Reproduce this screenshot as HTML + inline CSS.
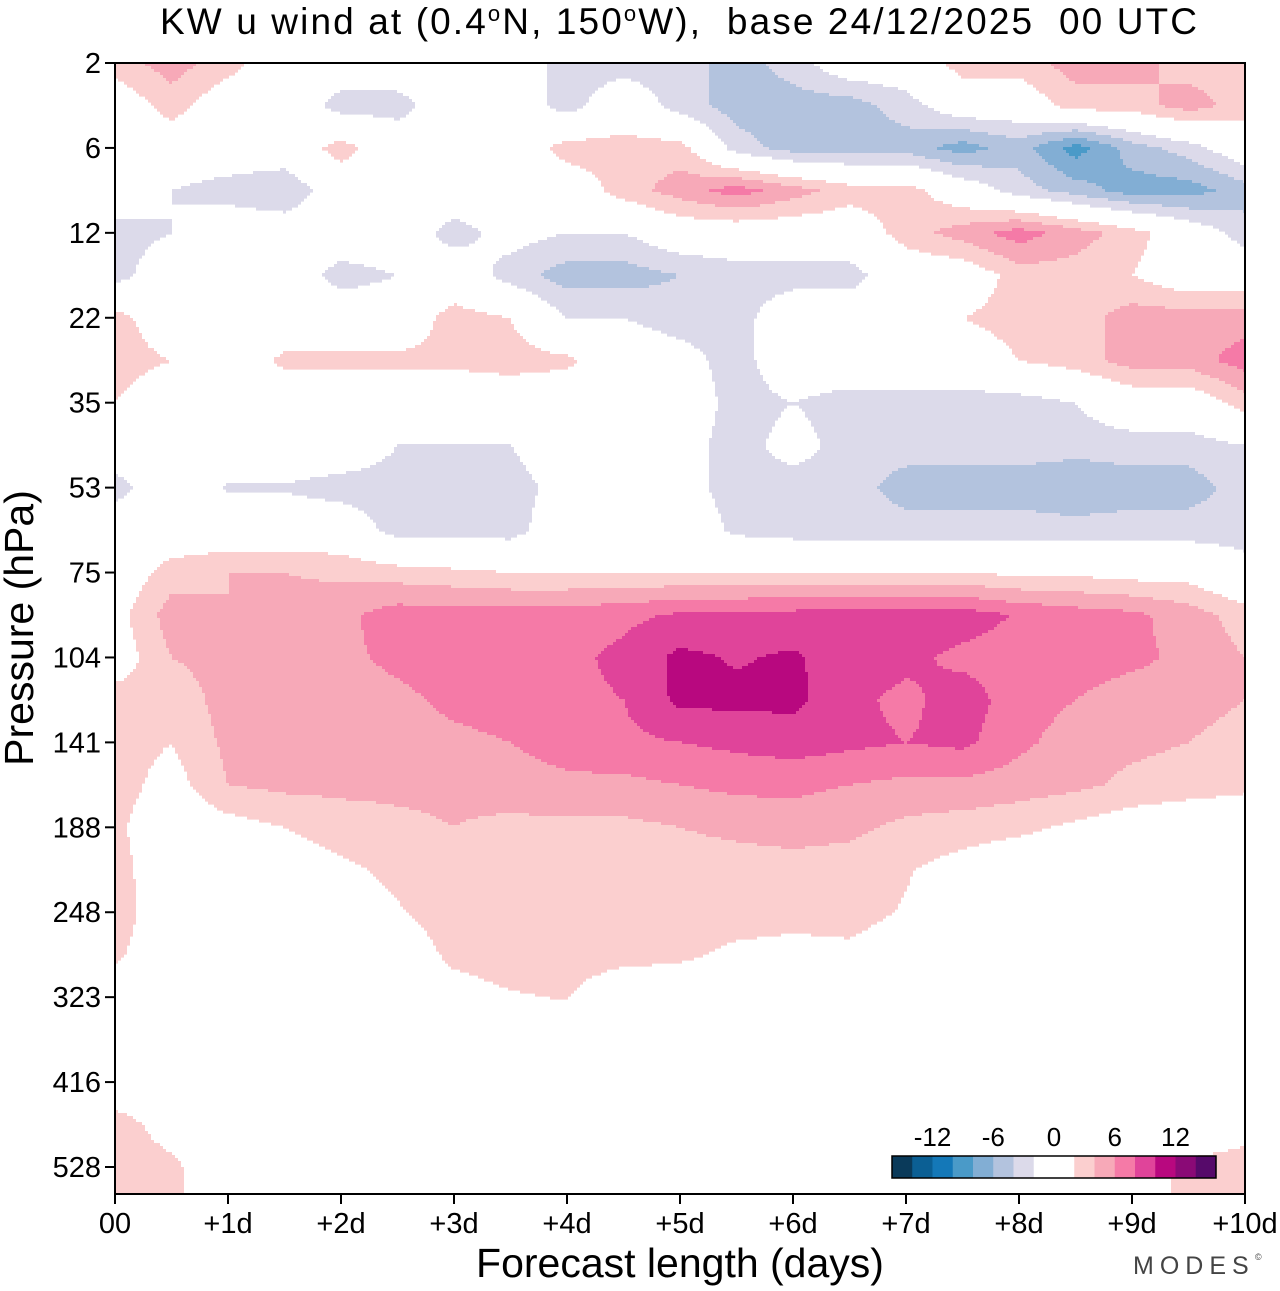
<!DOCTYPE html>
<html><head><meta charset="utf-8"><style>
body{margin:0;background:#fff;}
svg text{font-family:"Liberation Sans",Arial,sans-serif;fill:#000;}
</style></head><body>
<svg id="chart" width="1280" height="1286" viewBox="0 0 1280 1286" xmlns="http://www.w3.org/2000/svg">
<text x="160" y="34" font-size="37" textLength="1037" lengthAdjust="spacing" style="white-space:pre" xml:space="preserve">KW u wind at (0.4<tspan dy="-13" font-size="22">o</tspan><tspan dy="13">N, 150</tspan><tspan dy="-13" font-size="22">o</tspan><tspan dy="13">W),  base 24/12/2025  00 UTC</tspan></text>
<g id="field"></g>
<g id="axes"></g>
<g id="legend"></g>
<text transform="translate(33,628) rotate(-90)" font-size="41" text-anchor="middle">Pressure (hPa)</text>
<text x="680" y="1277" font-size="41" text-anchor="middle">Forecast length (days)</text>
<text x="1133" y="1274" font-size="25" letter-spacing="6" style="fill:#444">MODES</text>
<text x="1255" y="1260" font-size="9" style="fill:#444">©</text>
</svg>
<script>
// ---- data ----
const dayLabels = ["00","+1d","+2d","+3d","+4d","+5d","+6d","+7d","+8d","+9d","+10d"];
const pressureLabels = ["2","6","12","22","35","53","75","104","141","188","248","323","416","528"];
const legendLabels = ["-12","-6","0","6","12"];
const legendValues = [-12,-6,0,6,12];
const levelBounds = [-16,-14,-12,-10,-8,-6,-4,-2,0,2,4,6,8,10,12,14,16];
const levelColors = ["#0a3a5a","#0b5f94","#1478b8","#4a9ac8","#82aed4","#b3c3de","#dcdaea","#ffffff","#ffffff","#fbcfcf","#f7a9b8","#f57aa7","#e0449a","#b8087f","#8a0a76","#560a6a"];
// grid: columns every 0.5 day (21), rows every half pressure-label step (28)
const uRow00 = [3,5,3,0,0,0,0,0,-3,-3,-3,-5,-3,0,0,3,3,5,5,3,3];
const uRow01 = [0,3,0,0,-3,-3,0,0,-3,0,-3,-5,-5,-5,-3,0,0,3,3,5,3];
const uRow02 = [0,0,0,0,3,0,0,0,3,3,3,-3,-5,-5,-5,-7,-5,-9,-5,-3,0];
const uRow03 = [0,-2,-3,-4,0,0,0,0,0,3,5,7,5,3,3,0,-3,-5,-7,-7,-5];
const uRow04 = [-3,-2,0,0,0,0,-3,-1,-2,-2,0,0,0,0,3,5,7,5,3,0,-3];
const uRow05 = [-3,0,0,0,-3,-2,0,-3,-5,-5,-4,-3,-3,-3,0,0,3,3,2,0,0];
const uRow06 = [3,0,0,0,0,0,3,2,-2,-2,-3,-3,0,0,0,2,3,3,5,5,5];
const uRow07 = [3,2,0,2.5,2.5,2.5,2.5,3,2.5,0,-1,-3,0,0,0,0,2,3,5,5,7];
const uRow08 = [2,0,0,0,0,0,0,0,0,0,0,-3,-2,-3,-3,-3,-3,-2,0,0,3];
const uRow09 = [0,0,0,0,0,-2,-2,-2,0,0,-1,-3,-1,-3,-3,-3,-3,-3,-3,-3,-2];
const uRow10 = [-3,0,-2.2,-2.2,-3,-3,-3,-3,-1,0,-1,-3,-3,-3,-5,-5,-5,-6,-5,-5,-3];
const uRow11 = [0,0,0,0,0,-3,-3,-3,0,0,0,-2.5,-3,-3,-3,-3,-3,-3,-3,-3,-3];
const uRow12 = [0,3,4,4,3.5,3,2.5,2,2,2,2,2,2,2,2,2,1.5,1.5,1,1,-1];
const uRow13 = [1,5,4,5,5.5,7,7,7,7,7.5,8.3,8.5,8.7,9,9.2,9,7.8,7,6.5,5,3];
const uRow14 = [0.5,4,5,5,5.5,6.5,7,7,7.5,8.5,10.5,9.8,10.3,9,8.5,7.5,7,7,6.5,5.5,4];
const uRow15 = [3,2.5,5,5,5,5.5,6.5,7,7.5,8,10.5,10.5,10.5,8.5,7.5,9,7,6,5,5,4];
const uRow16 = [3,2,4.5,5,5,5,5.5,6,7,7.5,8,8.5,9,8.5,8,8.5,6.5,5,4.5,4,3];
const uRow17 = [3,1,4,4.5,4.5,4.5,4.5,5,5.5,5.5,6,6.5,6.5,6,5.5,5.5,5,4.5,3.5,3,2.5];
const uRow18 = [2.5,0,1,2,3,3.5,4,3.5,3.5,3.5,4,4.5,5,4.5,3.5,3,2.5,1.5,0.5,0,0];
const uRow19 = [3,0,0,0.5,1.5,2.5,3,3,3,3,3,3,3,3,2.2,1,0,0,0,0,0];
const uRow20 = [3,0.5,0,0,1,1.8,3,3,3,3,3,3,3,2.8,1.8,0,0,0,0,0,0];
const uRow21 = [2.5,0,0,0,0,0.5,2.5,3,3,2.8,2.4,1.5,1,1.5,0.5,0,0,0,0,0,0];
const uRow22 = [0,0,0,0,0,0,1,1.8,2.1,0,0,0,0,0,0,0,0,0,0,0,0];
const uRow23 = [0,0,0,0,0,0,0,0,0,0,0,0,0,0,0,0,0,0,0,0,0];
const uRow24 = [0,0,0,0,0,0,0,0,0,0,0,0,0,0,0,0,0,0,0,0,0];
const uRow25 = [3,1,0,0,0,0,0,0,0,0,0,0,0,0,0,0,0,0,0,0,1];
const uRow26 = [3,2.5,0,0,0,0,0,0,0,0,0,0,0,0,0,0,0,0,1,2.5,3];
const uRow27 = [3,2.5,0,0,0,0,0,0,0,0,0,0,0,0,0,0,0,0,1,2.5,3];
const uGrid = [uRow00,uRow01,uRow02,uRow03,uRow04,uRow05,uRow06,uRow07,uRow08,uRow09,uRow10,uRow11,uRow12,uRow13,uRow14,uRow15,uRow16,uRow17,uRow18,uRow19,uRow20,uRow21,uRow22,uRow23,uRow24,uRow25,uRow26,uRow27];

// ---- layout ----
const X0=115, X1=1245, Y0=63, Y1=1194;
const NS="http://www.w3.org/2000/svg";
const xDay = d => X0 + (X1-X0)*d/10;
const yLev = i => Y0 + (1167-Y0)*i/13;
function mk(tag, attrs, parent){const e=document.createElementNS(NS,tag);for(const k in attrs)e.setAttribute(k,attrs[k]);parent.appendChild(e);return e;}
function colorFor(v){
  if(v < levelBounds[1]) return levelColors[0];
  for(let k=1;k<levelBounds.length-1;k++){ if(v < levelBounds[k+1]) return levelColors[k]; }
  return levelColors[levelColors.length-1];
}
function valueAt(px,py){
  const nC=uGrid[0].length, nR=uGrid.length;
  const cf=(px-X0)/(X1-X0)*10/0.5;
  const rf=(py-Y0)/((1167-Y0)/13)/0.5;
  let c=Math.max(0,Math.min(nC-1.0001,cf)), r=Math.max(0,Math.min(nR-1.0001,rf));
  const c0=Math.floor(c), r0=Math.floor(r), fx=c-c0, fy=r-r0;
  const a=uGrid[r0][c0], b=uGrid[r0][c0+1], d=uGrid[r0+1][c0], e=uGrid[r0+1][c0+1];
  return (a*(1-fx)+b*fx)*(1-fy)+(d*(1-fx)+e*fx)*fy;
}
// ---- field ----
const field=document.getElementById('field');
const STEP=3;
function flush(x0,x1,y,h,col){
  if(col && col!=="#ffffff" && x1>x0){
    const r=mk('rect',{x:x0,y:y,width:x1-x0,height:h+0.6,fill:col},field);
    
    
  }
}
for(let y=Y0;y<Y1;y+=STEP){
  const h=Math.min(STEP,Y1-y);
  let runStart=X0, runColor=null;
  for(let x=X0;x<X1;x+=STEP){
    const col = colorFor(valueAt(Math.min(x+STEP/2,X1-0.5),y+h/2));
    if(col!==runColor){
      flush(runStart,x,y,h,runColor);
      runStart=x; runColor=col;
    }
  }
  flush(runStart,X1,y,h,runColor);
}
// ---- axes ----
const axes=document.getElementById('axes');
const frame=mk('rect',{x:X0,y:Y0,width:X1-X0,height:Y1-Y0,fill:'none',stroke:'#000','stroke-width':2},axes);


dayLabels.forEach((lab,i)=>{
  const x=xDay(i);
  const t=mk('line',{x1:x,y1:Y1,x2:x,y2:Y1+10,stroke:'#000','stroke-width':2},axes);
  
  
  const tx=mk('text',{x:x,y:Y1+39,'font-size':29,'text-anchor':'middle'},axes);
  tx.textContent=lab;
  
  
});
pressureLabels.forEach((lab,i)=>{
  const y=yLev(i);
  const t=mk('line',{x1:X0-10,y1:y,x2:X0,y2:y,stroke:'#000','stroke-width':2},axes);
  
  
  const tx=mk('text',{x:X0-14,y:y+10,'font-size':29,'text-anchor':'end'},axes);
  tx.textContent=lab;
  
  
});
// ---- legend ----
const lg=document.getElementById('legend');
const LX0=892, LX1=1216, LY=1156, LH=22;
const bw=(LX1-LX0)/levelColors.length;
const legX = v => LX0 + (v-levelBounds[0])/(levelBounds[levelBounds.length-1]-levelBounds[0])*(LX1-LX0);
levelColors.forEach((c,k)=>{
  const r=mk('rect',{x:LX0+k*bw,y:LY,width:bw+0.5,height:LH,fill:c},lg);
  
  
});
const lf=mk('rect',{x:LX0,y:LY,width:LX1-LX0,height:LH,fill:'none',stroke:'#000','stroke-width':1.5},lg);


legendLabels.forEach((lab,i)=>{
  const t=mk('text',{x:legX(legendValues[i]),y:LY-10,'font-size':26,'text-anchor':'middle'},lg);
  t.textContent=lab;
  
  
});
</script>
</body></html>
